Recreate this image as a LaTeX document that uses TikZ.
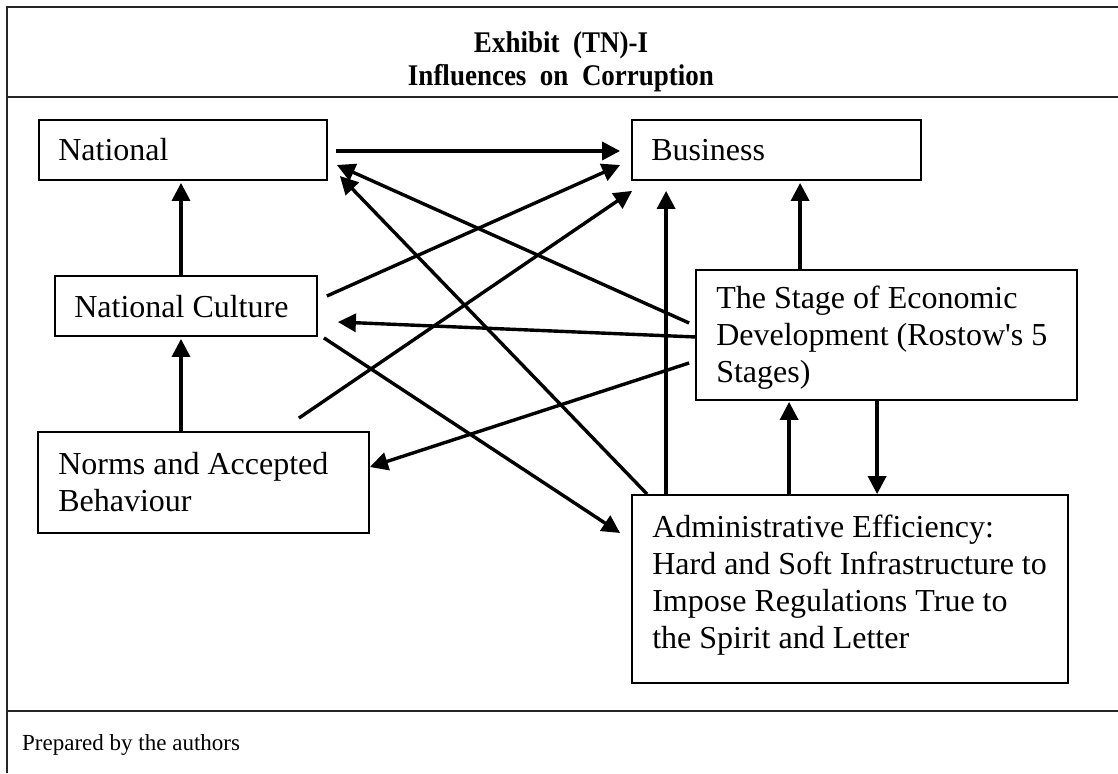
\documentclass[tikz,border=0pt]{standalone}
\usepackage{fontspec}
\setmainfont{Liberation Serif}[Ligatures=TeXOff]
\newfontfamily\titlefont{Liberation Serif}[FakeStretch=0.9]
\newcommand\titlestyle{\titlefont\bfseries\fontsize{30}{33}\selectfont\spaceskip=0.45em plus 0.1em\relax}
\usetikzlibrary{arrows.meta,calc}
\begin{document}
\begin{tikzpicture}[x=1pt,y=-1pt,
  box/.style={draw, line width=1.8pt, inner sep=0pt},
  txt/.style={anchor=west, align=left, inner sep=0pt, font=\fontsize{32}{37}\selectfont},
  arr/.style={line width=3.4pt, -{Triangle[length=18pt,width=18pt]}},
  frameline/.style={line width=2.6pt, draw=black!85}]
\useasboundingbox (0,0) rectangle (1118,773);
% frame
\draw[frameline] (1118,7) -- (7,7) -- (7,773);
\draw[frameline] (7,97) -- (1118,97);
\draw[frameline] (7,711) -- (1118,711);
\node[align=center, inner sep=0pt, anchor=base, font=\titlestyle] (title) at (561,86) {Exhibit (TN)-I\\Influences on Corruption};
\node[anchor=west, inner sep=0pt, font=\fontsize{23}{27}\selectfont] (foot) at (22,745) {Prepared by the authors};
% boxes
\node[box, minimum width=288pt, minimum height=60pt] (nat) at (183,150) {};
\node[box, minimum width=289pt, minimum height=60pt] (bus) at (776.5,150) {};
\node[box, minimum width=262pt, minimum height=60pt] (nc) at (186,306) {};
\node[box, minimum width=331pt, minimum height=101pt] (norms) at (203.5,482.5) {};
\node[box, minimum width=381pt, minimum height=130pt] (stage) at (886.5,335) {};
\node[box, minimum width=436pt, minimum height=188pt] (admin) at (850,589) {};
% texts
\node[txt] (natT) at ($(nat.west)+(20,0)$) {National};
\node[txt] (busT) at ($(bus.west)+(20,0)$) {Business};
\node[txt] (ncT) at ($(nc.west)+(20,1)$) {National Culture};
\node[txt] (normsT) at ($(norms.west)+(21,0)$) {Norms and Accepted\\Behaviour};
\node[txt] (stageT) at ($(stage.west)+(21,3)$) {The Stage of Economic\\Development (Rostow's 5\\Stages)};
\node[txt] (adminT) at ($(admin.west)+(21,-4)$) {Administrative Efficiency:\\Hard and Soft Infrastructure to\\Impose Regulations True to\\the Spirit and Letter};
% connectors
\draw[arr] ($(nat.east)+(8,1)$) -- ($(bus.west)+(-11,1)$);
\draw[arr] ($(nc.north)+(-5,0)$) -- ($(nat.south)+(-2,2)$);
\draw[arr] ($(norms.north)+(-22.5,0)$) -- ($(nc.south)+(-5,2)$);
\draw[arr] ($(nc.east)+(9,-10)$) -- ($(bus.west)+(-11,15)$);
\draw[arr] ($(norms.north east)+(-71,-13)$) -- ($(bus.south west)+(1,10)$);
\draw[arr] ($(stage.west)+(-6,-12)$) -- ($(nat.east)+(9,15)$);
\draw[arr] ($(admin.north west)+(16,0)$) -- ($(nat.east)+(12,26)$);
\draw[arr] ($(stage.west)+(1,2)$) -- ($(nc.east)+(20,16)$);
\draw[arr] ($(stage.west)+(-6,28)$) -- ($(norms.east)+(0,-15.5)$);
\draw[arr] ($(nc.south east)+(6,1)$) -- ($(admin.west)+(-11,-56)$);
\draw[arr] ($(admin.north west)+(35,0)$) -- ($(bus.south west)+(35,10)$);
\draw[arr] ($(stage.north west)+(105,0)$) -- ($(bus.south west)+(169,2)$);
\draw[arr] ($(admin.north west)+(158,0)$) -- ($(stage.south west)+(94,1)$);
\draw[arr] ($(stage.south west)+(182,0)$) -- ($(admin.north west)+(246,0)$);
\end{tikzpicture}
\end{document}
